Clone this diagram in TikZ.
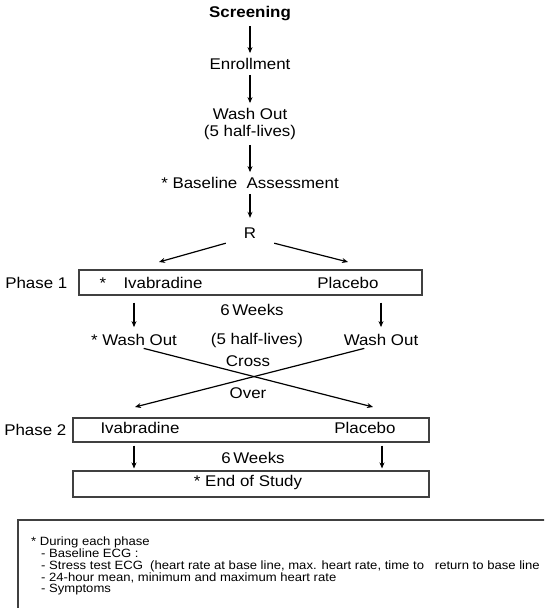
\documentclass[tikz,border=0pt]{standalone}
\usepackage{fontspec}
\setmainfont{Liberation Sans}[FakeStretch=1.09]
\usetikzlibrary{positioning}
\usetikzlibrary{arrows.meta}

\begin{document}
\begin{tikzpicture}[
    x=1pt, y=-1pt,
    txt/.style={inner sep=0pt, font=\fontsize{15.5}{17}\selectfont, align=center},
    arr/.style={-{Stealth[length=6pt,width=5pt]}, line width=1.4pt, black},
    diag/.style={-{Stealth[length=6pt,width=5pt]}, line width=1.2pt, black},
    phasebox/.style={draw=black!75, line width=1.1pt, minimum height=25pt, inner sep=0pt},
    vert/.style={arr, shorten <=5pt, shorten >=5pt}
]
    \useasboundingbox (0,0) rectangle (544,608);
    \clip (0,0) rectangle (544,608);

    % Enrollment steps
    \node[txt, font=\fontsize{15.5}{17}\selectfont\bfseries] (scr) at (250,14) {Screening};
    \node[txt] (enr) at (250,64) {Enrollment};
    \node[txt] (wash) at (250,124) {Wash Out\\(5 half-lives)};
    \node[txt] (base) at (250,183) {* Baseline\ \ Assessment};
    \node[txt, minimum width=48pt, minimum height=20pt] (rand) at (250,233) {R};

    \draw[vert] (scr) -- (enr);
    \draw[vert] (enr) -- (wash);
    \draw[vert] (wash) -- (base);
    \draw[vert] (base) -- (rand);

    % Phase 1
    \node[phasebox, minimum width=343pt] (p1) at (250.5,282.5) {};
    \node[txt, left=11pt of p1] (ph1) {Phase 1};
    \node[txt] at (103,283) {*};
    \node[txt] (ivab1) at (163,283) {Ivabradine};
    \node[txt] (plac1) at (348,283) {Placebo};

    \coordinate (rl) at (159,262);
    \coordinate (rr) at (348,262);
    \draw[diag] (rand.south west) -- (rl);
    \draw[diag] (rand.south east) -- (rr);

    % Wash out and cross over
    \node[txt] (wol) at (134,340) {* Wash Out};
    \node[txt] (wor) at (381,340) {Wash Out};
    \node[txt] (wk1) at (252,310) {6\,Weeks};
    \node[txt] (hl) at (257,340) {(5 half-lives)};
    \node[txt] (cross) at (248,361) {Cross};
    \node[txt] (over) at (248,393) {Over};

    \draw[arr, shorten <=7pt, shorten >=7pt] (wol |- p1.south) -- (wol.north);
    \draw[arr, shorten <=7pt, shorten >=7pt] (wor |- p1.south) -- (wor.north);

    \coordinate (xl) at (135,407);
    \coordinate (xr) at (373,407);
    \draw[diag, shorten <=10pt] (wol.south) -- (xr);
    \draw[diag, shorten <=10pt] ([xshift=-7pt]wor.south) -- (xl);

    % Phase 2
    \node[phasebox, minimum width=356pt, minimum height=24pt] (p2) at (251,430) {};
    \node[txt, left=6pt of p2] (ph2) {Phase 2};
    \node[txt] (ivab2) at (140,428) {Ivabradine};
    \node[txt] (plac2) at (365,428) {Placebo};
    \node[txt] (wk2) at (253,458) {6\,Weeks};

    \node[phasebox, minimum width=356pt, minimum height=26pt] (eos) at (251,484) {};
    \node[txt] (eostxt) at (248,482) {* End of Study};

    \draw[arr, shorten <=3pt, shorten >=2pt] (wol |- p2.south) -- (wol |- eos.north);
    \draw[arr, shorten <=3pt, shorten >=2pt] ([xshift=1pt]wor |- p2.south) -- ([xshift=1pt]wor |- eos.north);

    % Notes
    \draw[black!75, line width=1.1pt] (18,520) rectangle (600,640);
    \node[inner sep=0pt, anchor=north west, align=left,
          font=\fontsize{12}{11.7}\selectfont] (notes) at (31,537) {%
        * During each phase\\
        \hspace*{10pt}- Baseline ECG :\\
        \hspace*{10pt}- Stress test ECG\ \ (heart rate at base line, max. heart rate, time to\ \ \ return to base line\\
        \hspace*{10pt}- 24-hour mean, minimum and maximum heart rate\\
        \hspace*{10pt}- Symptoms};
\end{tikzpicture}
\end{document}
